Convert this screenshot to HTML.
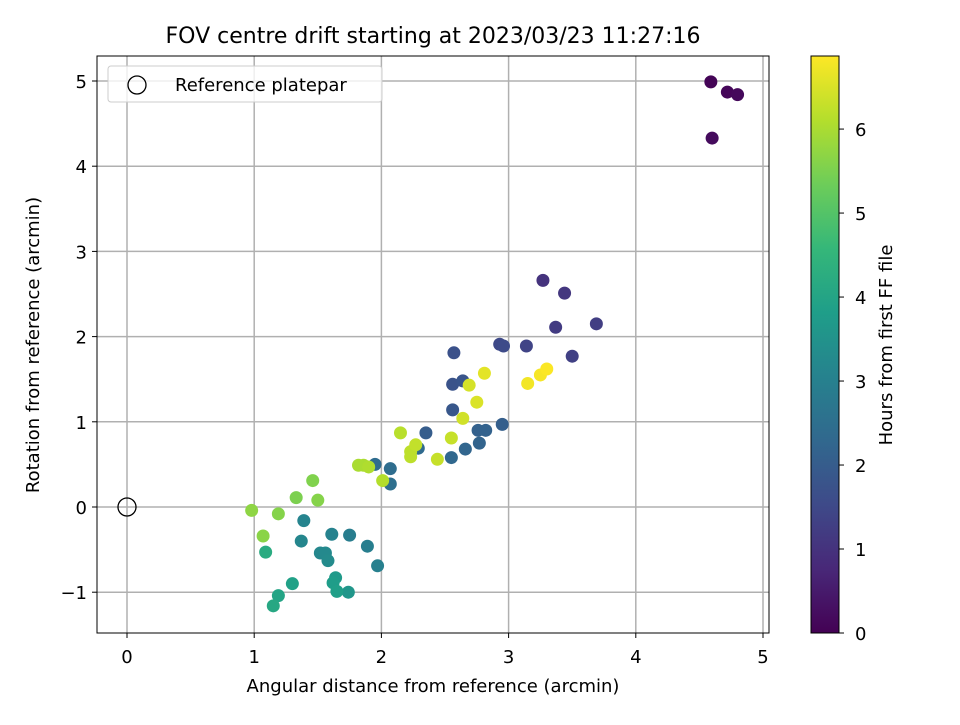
<!DOCTYPE html>
<html><head><meta charset="utf-8"><style>
body{margin:0;background:#fff;}
svg{font-family:"DejaVu Sans","Liberation Sans",sans-serif;}
</style></head><body>
<svg id="chart" width="960" height="720" viewBox="0 0 960 720"></svg>
<script>
const xVals=[4.59,4.72,4.80,4.60, 3.27,3.44,3.37,3.69,3.50,3.14,2.93,2.96, 2.57,2.56,2.64,2.56,2.35,2.95,2.76,2.82,2.77,2.66,2.55,2.29,1.95,2.07,2.07, 1.75,1.89,1.97,1.61,1.39,1.37,1.52,1.56,1.58, 1.74,1.64,1.62,1.65,1.30,1.19,1.15,1.09, 1.33,1.46,1.50,1.19,1.07,0.98, 1.82,1.86,1.90,2.01,2.15,2.23,2.23,2.27,2.44,2.55, 2.64,2.69,2.75,2.81,3.15,3.25,3.30];
const yVals=[4.99,4.87,4.84,4.33, 2.66,2.51,2.11,2.15,1.77,1.89,1.91,1.89, 1.81,1.44,1.48,1.14,0.87,0.97,0.90,0.90,0.75,0.68,0.58,0.69,0.50,0.45,0.27, -0.33,-0.46,-0.69,-0.32,-0.16,-0.40,-0.54,-0.54,-0.63, -1.00,-0.83,-0.89,-0.99,-0.90,-1.04,-1.16,-0.53, 0.11,0.31,0.08,-0.08,-0.34,-0.04, 0.49,0.49,0.47,0.31,0.87,0.65,0.59,0.73,0.56,0.81, 1.04,1.43,1.23,1.57,1.45,1.55,1.62];
const hours=[0.05,0.1,0.15,0.2, 1.0,1.1,1.2,1.25,1.3,1.4,1.5,1.55, 1.7,1.75,1.8,1.85,2.0,2.05,2.1,2.15,2.2,2.25,2.3,2.35,2.4,2.45,2.5, 2.9,2.95,3.0,3.05,3.1,3.15,3.2,3.25,3.3, 3.6,3.7,3.8,3.85,3.9,4.0,4.1,4.2, 5.5,5.55,5.6,5.6,5.65,5.7, 6.0,6.0,6.05,6.1,6.15,6.2,6.2,6.25,6.3,6.3, 6.4,6.45,6.5,6.6,6.75,6.8,6.85];
const xTicks=[0,1,2,3,4,5];
const yTicks=[-1,0,1,2,3,4,5];
const cTicks=[0,1,2,3,4,5,6];
const hMax=6.87;

const X=v=>127+v*127.2, Y=v=>507-v*85.2, C=v=>633-v*(577/hMax);
const vir=[[68,1,84],[72,40,120],[62,74,137],[49,104,142],[38,130,142],[31,158,137],[53,183,121],[109,205,89],[180,222,44],[253,231,37]];
function cmap(t){t=Math.max(0,Math.min(1,t))*9;const i=Math.min(8,Math.floor(t)),f=t-i;const a=vir[i],b=vir[i+1];return `rgb(${a.map((c,k)=>Math.round(c+(b[k]-c)*f)).join(',')})`;}
const svg=document.getElementById('chart');const NS='http://www.w3.org/2000/svg';
function el(tag,attrs,parent,text){const e=document.createElementNS(NS,tag);for(const k in attrs)e.setAttribute(k,attrs[k]);if(text!==undefined)e.textContent=text;(parent||svg).appendChild(e);return e;}
xTicks.forEach(t=>{const g=el('line',{x1:X(t),x2:X(t),y1:56,y2:633,stroke:'#b0b0b0','stroke-width':1.5});

});
yTicks.forEach(t=>{const g=el('line',{x1:97,x2:769,y1:Y(t),y2:Y(t),stroke:'#b0b0b0','stroke-width':1.5});

});
for(let i=0;i<xVals.length;i++){const c=el('circle',{cx:X(xVals[i]),cy:Y(yVals[i]),r:6.5,fill:cmap(hours[i]/hMax)});

}
const ref=el('circle',{cx:X(0),cy:Y(0),r:9,fill:'none',stroke:'#000','stroke-width':1.3});


const fr=el('rect',{x:97,y:56,width:672,height:577,fill:'none',stroke:'#000','stroke-width':1});


xTicks.forEach(t=>{el('line',{x1:X(t),x2:X(t),y1:633,y2:638,stroke:'#000'});const l=el('text',{x:X(t),y:663,'text-anchor':'middle','font-size':18},svg,String(t));

});
yTicks.forEach(t=>{el('line',{x1:92,x2:97,y1:Y(t),y2:Y(t),stroke:'#000'});const l=el('text',{x:87,y:Y(t)+7,'text-anchor':'end','font-size':18},svg,t<0?'\u2212'+(-t):String(t));

});
const lg=el('g',{});


el('rect',{x:108,y:66,width:274,height:36,rx:3,fill:'#fff','fill-opacity':0.8,stroke:'#ccc'},lg);
el('circle',{cx:137,cy:85,r:9,fill:'none',stroke:'#000','stroke-width':1.3},lg);
el('text',{x:175,y:91,'font-size':18},lg,'Reference platepar');
const tt=el('text',{x:433,y:43,'text-anchor':'middle','font-size':22},svg,'FOV centre drift starting at 2023/03/23 11:27:16');


const xt=el('text',{x:433,y:692,'text-anchor':'middle','font-size':18},svg,'Angular distance from reference (arcmin)');


const yt=el('text',{x:0,y:0,'text-anchor':'middle','font-size':18,transform:'translate(39,345) rotate(-90)'},svg,'Rotation from reference (arcmin)');


const defs=el('defs',{});const gr=el('linearGradient',{id:'vg',x1:0,y1:1,x2:0,y2:0},defs);
vir.forEach((c,i)=>el('stop',{offset:i/9,'stop-color':`rgb(${c.join(',')})`},gr));
const cb=el('rect',{x:811,y:56,width:28,height:577,fill:'url(#vg)',stroke:'#000','stroke-width':1});


cTicks.forEach(t=>{el('line',{x1:839,x2:844,y1:C(t),y2:C(t),stroke:'#000'});const l=el('text',{x:855,y:C(t)+7,'font-size':18},svg,String(t));

});
const ct=el('text',{x:0,y:0,'text-anchor':'middle','font-size':18,transform:'translate(892,345) rotate(-90)'},svg,'Hours from first FF file');


</script>
</body></html>
